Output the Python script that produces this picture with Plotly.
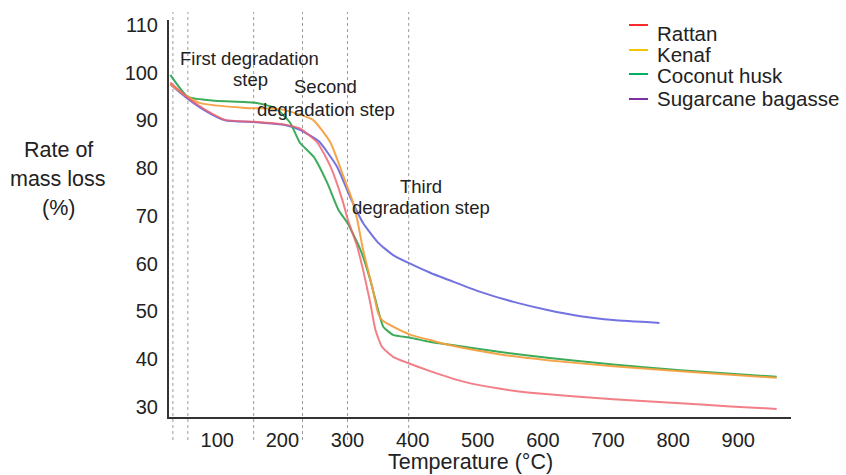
import plotly.graph_objects as go

# ---------------- data ----------------
series_names = ["Rattan", "Kenaf", "Coconut husk", "Sugarcane bagasse"]

rattan_x = [28, 55, 82, 112, 158, 204, 227, 254, 274, 292, 301, 314, 324, 335, 343, 353, 370, 393, 427, 478, 535, 581, 708, 811, 888, 959]
rattan_y = [97.9, 94.7, 92.2, 90.1, 89.7, 89.1, 88.3, 85.3, 80.3, 73.4, 69.0, 64.0, 58.7, 51.8, 46.1, 42.6, 40.5, 39.2, 37.5, 35.3, 33.8, 33.0, 31.6, 30.8, 30.1, 29.6]

kenaf_x = [28, 55, 74, 143, 197, 247, 274, 294, 307, 315, 324, 338, 347, 353, 370, 397, 427, 458, 535, 607, 708, 811, 959]
kenaf_y = [97.5, 94.9, 93.6, 92.6, 92.3, 90.1, 85.3, 78.2, 73.4, 69.2, 62.9, 55.1, 49.7, 48.2, 46.8, 45.1, 44.0, 42.9, 41.0, 39.8, 38.5, 37.5, 36.1]

coconut_x = [28, 55, 97, 158, 189, 212, 227, 248, 269, 286, 300, 320, 335, 347, 355, 370, 397, 427, 458, 535, 607, 708, 811, 959]
coconut_y = [99.5, 94.9, 94.1, 93.7, 92.6, 89.5, 85.3, 82.4, 76.9, 71.3, 68.5, 62.9, 56.6, 50.3, 46.8, 45.1, 44.5, 43.6, 43.0, 41.5, 40.3, 38.9, 37.7, 36.3]

bagasse_x = [28, 55, 82, 112, 158, 204, 227, 256, 284, 304, 324, 347, 370, 393, 427, 504, 555, 607, 658, 708, 779]
bagasse_y = [97.5, 94.5, 92.0, 90.0, 89.6, 89.0, 88.0, 85.6, 80.3, 74.0, 68.5, 64.4, 61.8, 60.2, 58.1, 54.1, 52.0, 50.3, 49.0, 48.2, 47.6]

x_ticks = [100, 200, 300, 400, 500, 600, 700, 800, 900]
y_ticks = [30, 40, 50, 60, 70, 80, 90, 100, 110]
step_boundaries = [32, 55, 156, 231, 300, 394]

line_colors = ["#f0606a", "#f6a040", "#33a852", "#6b6be0"]
legend_colors = ["#ff2a2a", "#f5c400", "#00b060", "#7b2fa0"]

# ---------------- figure ----------------
FONT = "Liberation Sans, Arial, Helvetica, sans-serif"
W, H = 846, 475
L, R, T, B = 169, 55, 20, 58
PW, PH = W - L - R, H - T - B


def px(xp):
    return (xp - L) / PW


def py(yp):
    return (H - B - yp) / PH


fig = go.Figure()
all_x = [bagasse_x, coconut_x, kenaf_x, rattan_x]
all_y = [bagasse_y, coconut_y, kenaf_y, rattan_y]
order = [3, 2, 1, 0]
for xs, ys, i in zip(all_x, all_y, order):
    fig.add_trace(go.Scatter(
        x=xs, y=ys, mode="lines", name=series_names[i],
        line=dict(color=line_colors[i], width=2, shape="spline", smoothing=0.5),
        opacity=0.8 if i == 0 else 0.95,
        showlegend=False, hoverinfo="skip"))

for xv in step_boundaries:
    fig.add_shape(type="line", xref="x", yref="paper", x0=xv, x1=xv,
                  y0=-0.058, y1=1.02,
                  line=dict(color="#9a9a9a", width=1, dash="dot"), layer="below")

# legend drawn as dashes + labels
leg_text_y = [33, 55, 75, 98]
leg_dash_y = [25, 50, 74, 99]
for name, c, ty, dy in zip(series_names, legend_colors, leg_text_y, leg_dash_y):
    fig.add_shape(type="line", xref="paper", yref="paper",
                  x0=px(629), x1=px(648), y0=py(dy), y1=py(dy),
                  line=dict(color=c, width=2))
    fig.add_annotation(xref="paper", yref="paper", x=px(655), y=py(ty),
                       text=name, showarrow=False, xanchor="left", yanchor="middle",
                       font=dict(family=FONT, size=20.5, color="#222"))

notes = [
    ("First degradation", 249, 59),
    ("step", 250, 80),
    ("Second", 325, 87),
    ("degradation step", 326, 109),
    ("Third", 421, 187),
    ("degradation step", 421, 208),
]
for t, xp, yp in notes:
    fig.add_annotation(xref="paper", yref="paper", x=px(xp), y=py(yp), text=t,
                       showarrow=False, xanchor="center", yanchor="middle",
                       font=dict(family=FONT, size=18.5, color="#222"))

for t, yp in [("Rate of", 150), ("mass loss", 179), ("(%)", 208)]:
    fig.add_annotation(xref="paper", yref="paper", x=px(58), y=py(yp), text=t,
                       showarrow=False, xanchor="center", yanchor="middle",
                       font=dict(family=FONT, size=21.5, color="#222"))

fig.add_annotation(xref="paper", yref="paper", x=px(470), y=py(462),
                   text="Temperature (°C)", showarrow=False,
                   xanchor="center", yanchor="middle",
                   font=dict(family=FONT, size=21.5, color="#222"))

fig.update_layout(
    width=W, height=H,
    margin=dict(l=L, r=R, t=T, b=B, pad=0),
    paper_bgcolor="white", plot_bgcolor="white",
    font=dict(family=FONT, size=20, color="#222"),
    xaxis=dict(range=[26, 981], tickvals=x_ticks, showgrid=False, zeroline=False,
               showline=True, linecolor="#333", linewidth=2,
               ticks="outside", ticklen=4, tickcolor="rgba(0,0,0,0)",
               tickfont=dict(size=20)),
    yaxis=dict(range=[27.9, 111], tickvals=y_ticks, showgrid=False, zeroline=False,
               showline=True, linecolor="#333", linewidth=2,
               ticks="outside", ticklen=5, tickcolor="rgba(0,0,0,0)",
               tickfont=dict(size=20)),
)

fig.write_html("out.html")
